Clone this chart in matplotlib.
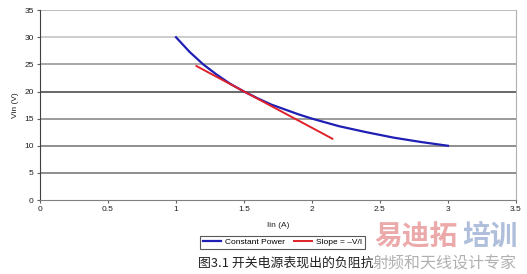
import matplotlib
matplotlib.use("Agg")
from matplotlib import pyplot as plt

# datos
iin_cp = [1.0, 1.1, 1.2, 1.3, 1.4, 1.5, 1.6, 1.7, 1.8, 1.9, 2.0, 2.2, 2.4, 2.6, 2.8, 3.0]
vin_cp = [30.0, 27.3, 25.0, 23.1, 21.4, 20.0, 18.75, 17.6, 16.7, 15.8, 15.0, 13.6, 12.5, 11.5, 10.7, 10.0]
iin_slope = [1.15, 2.15]
vin_slope = [24.7, 11.3]
x_ticks = [0, 0.5, 1, 1.5, 2, 2.5, 3, 3.5]
y_ticks = [0, 5, 10, 15, 20, 25, 30, 35]

plt.rcParams['font.family'] = ['Liberation Sans', 'DejaVu Sans']

fig = plt.figure(figsize=(5.27, 2.74), dpi=100)
ax = fig.add_axes([0.076, 0.270, 0.903, 0.693])

# lineas de cuadricula horizontales
grid_colors = {5: '#707070', 10: '#707070', 15: '#808080', 20: '#404040',
               25: '#909090', 30: '#c0c0c0', 35: '#a8a8a8'}
for yv in y_ticks[1:]:
    ax.axhline(yv, color=grid_colors[yv], lw=1.1, zorder=1)

l1, = ax.plot(iin_cp, vin_cp, color='#1f1fb4', lw=1.6, zorder=3, label='Constant Power')
l2, = ax.plot(iin_slope, vin_slope, color='#e0202a', lw=1.4, zorder=4, label='Slope = \u2013V/I')

ax.set_xlim(0, 3.5)
ax.set_ylim(0, 35)
ax.set_xticks(x_ticks)
ax.set_xticklabels([str(t) for t in x_ticks])
ax.set_yticks(y_ticks)
ax.tick_params(labelsize=6, length=2.5, width=0.8, color='#606060', pad=2, labelcolor='#202020')

ax.spines['top'].set_visible(False)
ax.spines['left'].set_color('#404040')
ax.spines['bottom'].set_color('#808080')
ax.spines['right'].set_color('#b0b0b0')

ax.set_xlabel('Iin (A)', fontsize=6, labelpad=6, color='#202020')
ax.set_ylabel('Vin (V)', fontsize=6, labelpad=4, color='#202020')

leg = fig.legend(handles=[l1, l2], loc='center', bbox_to_anchor=(0.536, 0.115), ncol=2,
                 fontsize=6, frameon=True, fancybox=False, edgecolor='#303030',
                 handlelength=2.2, columnspacing=1.0, borderpad=0.3, handletextpad=0.5)
leg.get_frame().set_linewidth(0.8)

# pie de figura y marca de agua
cjk = ['Noto Sans CJK SC', 'DejaVu Sans']
fig.text(0.376, 0.040, '图3.1 开关电源表现出的负阻抗', fontsize=9.3,
         family=cjk, color='#202020', va='center')
fig.text(0.710, 0.135, '易迪拓', fontsize=20, fontweight='bold', color='#e99a9a',
         family=cjk, va='center', alpha=0.85)
fig.text(0.877, 0.135, '培训', fontsize=20, fontweight='bold', color='#a6b8d8',
         family=cjk, va='center', alpha=0.9)
fig.text(0.706, 0.035, '射频和天线设计专家', fontsize=11.5, color='#a8a8a8',
         family=cjk, va='center', alpha=0.9)

fig.savefig('out.png', dpi=100)
